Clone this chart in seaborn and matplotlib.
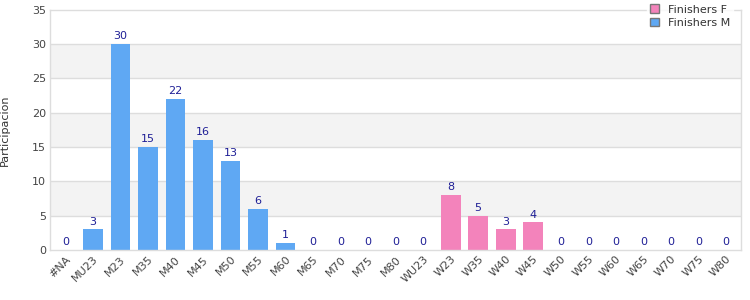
import matplotlib

matplotlib.use("Agg")
import matplotlib.pyplot as plt
import pandas as pd
import seaborn as sns
from matplotlib.patches import Patch

categories = ["#NA", "MU23", "M23", "M35", "M40", "M45", "M50", "M55", "M60",
              "M65", "M70", "M75", "M80", "WU23", "W23", "W35", "W40", "W45",
              "W50", "W55", "W60", "W65", "W70", "W75", "W80"]
values = [0, 3, 30, 15, 22, 16, 13, 6, 1, 0, 0, 0, 0,
          0, 8, 5, 3, 4, 0, 0, 0, 0, 0, 0, 0]
series = ["Finishers M"] * 13 + ["Finishers F"] * 12

colors = {"Finishers F": "#f383bb", "Finishers M": "#5fa8f3"}

df = pd.DataFrame({"Categoria": categories, "Valor": values, "Serie": series})

sns.set_style("white")
fig = plt.figure(figsize=(7.5, 3), dpi=100)
ax = fig.add_axes([0.067, 0.167, 0.921, 0.8])

# grey bands every other 5 units
for lo in (5, 15, 25):
    ax.axhspan(lo, lo + 5, color="#f3f3f3", zorder=0, lw=0)
for y in range(5, 35, 5):
    ax.axhline(y, color="#dddddd", lw=1, zorder=0.5)

sns.barplot(data=df, x="Categoria", y="Valor", hue="Serie", order=categories,
            palette=colors, dodge=False, width=0.72, ax=ax, legend=False,
            zorder=2, saturation=1, linewidth=0)

for cont in ax.containers:
    ax.bar_label(cont, padding=2, fontsize=8, color="#1f1f96")

ax.set_ylim(0, 35)
ax.set_xlim(-0.55, len(categories) - 0.45)
ax.set_yticks(range(0, 36, 5))
ax.set_xlabel("")
ax.set_ylabel("Participacion", fontsize=8, color="#333333")
ax.yaxis.set_label_coords(-0.058, 0.5)
ax.tick_params(axis="both", length=0, labelsize=8, colors="#444444", pad=3)
plt.setp(ax.get_xticklabels(), rotation=45, ha="right", rotation_mode="anchor")
for s in ax.spines.values():
    s.set_color("#dddddd")
    s.set_linewidth(1)

handles = [Patch(facecolor=colors["Finishers F"], edgecolor="#777777", label="Finishers F"),
           Patch(facecolor=colors["Finishers M"], edgecolor="#777777", label="Finishers M")]
leg = fig.legend(handles=handles, loc="upper right", bbox_to_anchor=(0.985, 1.015),
                 fontsize=8, frameon=True, fancybox=False, handlelength=0.8,
                 handleheight=0.8, handletextpad=0.8, labelspacing=0.3,
                 borderpad=0.3)
leg.get_frame().set_edgecolor("white")
leg.get_frame().set_facecolor("white")
for t in leg.get_texts():
    t.set_color("#333333")

fig.savefig("out.png", dpi=100)
